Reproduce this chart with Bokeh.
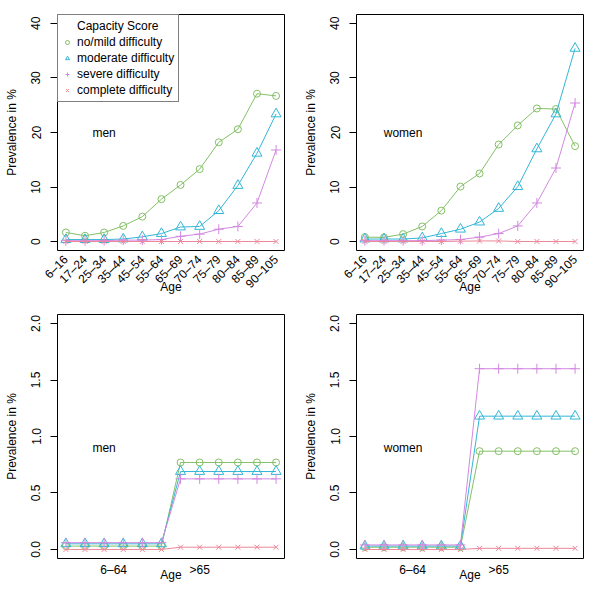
import math
from bokeh.plotting import figure
from bokeh.layouts import gridplot
from bokeh.models import FixedTicker, Legend, LegendItem, Range1d, Label
from bokeh.embed import file_html
from bokeh.resources import INLINE

# ---------------- data ----------------
age_groups = ["6–16", "17–24", "25–34", "35–44", "45–54", "55–64",
              "65–69", "70–74", "75–79", "80–84", "85–89", "90–105"]
age_pos = [1, 2, 3, 4, 5, 6, 7, 8, 9, 10, 11, 12]
series_names = ["no/mild difficulty", "moderate difficulty",
                "severe difficulty", "complete difficulty"]

men_mild = [1.7, 1.1, 1.7, 2.9, 4.6, 7.8, 10.4, 13.3, 18.2, 20.6, 27.1, 26.7]
men_moderate = [0.4, 0.4, 0.4, 0.5, 0.9, 1.5, 2.7, 2.8, 5.7, 10.3, 16.2, 23.4]
men_severe = [0.2, 0.2, 0.2, 0.3, 0.3, 0.4, 1.0, 1.4, 2.3, 2.8, 7.1, 16.8]
men_complete = [0.05, 0.05, 0.05, 0.05, 0.05, 0.05, 0.05, 0.05, 0.05, 0.05, 0.05, 0.05]

women_mild = [0.85, 0.8, 1.4, 2.8, 5.7, 10.1, 12.5, 17.8, 21.3, 24.4, 24.3, 17.5]
women_moderate = [0.5, 0.5, 0.5, 0.7, 1.5, 2.3, 3.6, 6.1, 10.1, 17.0, 23.4, 35.4]
women_severe = [0.2, 0.2, 0.2, 0.2, 0.3, 0.4, 0.85, 1.5, 2.9, 7.1, 13.5, 25.4]
women_complete = [0.05, 0.05, 0.05, 0.05, 0.05, 0.1, 0.15, 0.15, 0.05, 0.05, 0.05, 0.05]

grp_labels = ["6–64", ">65"]
grp_label_pos = [3.5, 8]
grp_pos = [1, 2, 3, 4, 5, 6, 7, 8, 9, 10, 11, 12]
men_grp_mild = [0.03, 0.03, 0.03, 0.03, 0.03, 0.03, 0.77, 0.77, 0.77, 0.77, 0.77, 0.77]
men_grp_moderate = [0.05, 0.05, 0.05, 0.05, 0.05, 0.05, 0.69, 0.69, 0.69, 0.69, 0.69, 0.69]
men_grp_severe = [0.06, 0.06, 0.06, 0.06, 0.06, 0.06, 0.625, 0.625, 0.625, 0.625, 0.625, 0.625]
men_grp_complete = [0.0, 0.0, 0.0, 0.0, 0.0, 0.0, 0.02, 0.02, 0.02, 0.02, 0.02, 0.02]

women_grp_mild = [0.02, 0.02, 0.02, 0.02, 0.02, 0.02, 0.87, 0.87, 0.87, 0.87, 0.87, 0.87]
women_grp_moderate = [0.03, 0.03, 0.03, 0.03, 0.03, 0.03, 1.18, 1.18, 1.18, 1.18, 1.18, 1.18]
women_grp_severe = [0.04, 0.04, 0.04, 0.04, 0.04, 0.04, 1.6, 1.6, 1.6, 1.6, 1.6, 1.6]
women_grp_complete = [0.0, 0.0, 0.0, 0.0, 0.0, 0.0, 0.01, 0.01, 0.01, 0.01, 0.01, 0.01]

top_yticks = [0, 10, 20, 30, 40]
top_ytick_labels = ["0", "10", "20", "30", "40"]
bottom_yticks = [0, 0.5, 1.0, 1.5, 2.0]
bottom_ytick_labels = ["0.0", "0.5", "1.0", "1.5", "2.0"]

# ---------------- style ----------------
FONT = "Liberation Sans"
colors = ["#84C066", "#33B6D6", "#D388E0", "#EC8799"]
markers = ["circle", "triangle", "cross", "x"]
msizes = [7, 10, 10, 7]


def make_panel(xs, series, y_max, yticks, ylabels, xticks, xlabels, rotate,
               tag, tag_y, width, height, b_left, b_right, b_top, b_bottom,
               xlbl_standoff, xlab_standoff, with_legend=False):
    pad = 0.04 * y_max
    p = figure(width=width, height=height, output_backend="svg",
               toolbar_location=None,
               x_range=Range1d(0.56, 12.44), y_range=Range1d(-pad, y_max + pad),
               min_border_left=b_left, min_border_right=b_right,
               min_border_top=b_top, min_border_bottom=b_bottom,
               background_fill_color="white", border_fill_color="white")
    p.grid.visible = False
    p.outline_line_color = "black"
    p.outline_line_width = 1

    # y axis
    ya = p.yaxis[0]
    ya.ticker = FixedTicker(ticks=yticks)
    ya.major_label_overrides = {t: l for t, l in zip(yticks, ylabels)}
    ya.major_label_orientation = "vertical"
    ya.major_tick_out = 7
    ya.major_tick_in = 0
    ya.minor_tick_line_color = None
    ya.axis_line_color = None
    ya.major_label_text_font = FONT
    ya.major_label_text_font_size = "12px"
    ya.major_label_text_color = "black"
    ya.major_label_standoff = 10
    ya.axis_label = "Prevalence in %"
    ya.axis_label_text_font = FONT
    ya.axis_label_text_font_size = "12px"
    ya.axis_label_text_font_style = "normal"
    ya.axis_label_text_color = "black"
    ya.axis_label_standoff = 10

    # x axis
    xa = p.xaxis[0]
    xa.ticker = FixedTicker(ticks=xticks)
    xa.major_label_overrides = {t: l for t, l in zip(xticks, xlabels)}
    if rotate:
        xa.major_label_orientation = math.pi / 4
    xa.major_tick_line_color = None
    xa.minor_tick_line_color = None
    xa.axis_line_color = None
    xa.major_label_text_font = FONT
    xa.major_label_text_font_size = "12px"
    xa.major_label_text_color = "black"
    xa.major_label_standoff = xlbl_standoff
    xa.axis_label = "Age"
    xa.axis_label_text_font = FONT
    xa.axis_label_text_font_size = "12px"
    xa.axis_label_text_font_style = "normal"
    xa.axis_label_text_color = "black"
    xa.axis_label_standoff = xlab_standoff

    scatters = []
    for ys, c, m, s in zip(series, colors, markers, msizes):
        p.line(xs, ys, line_color=c, line_width=1)
        r = p.scatter(xs, ys, marker=m, size=s, line_color=c, fill_color=None,
                      line_width=1)
        scatters.append(r)

    p.add_layout(Label(x=3, y=tag_y, text=tag, text_align="center",
                       text_baseline="middle", text_font=FONT,
                       text_font_size="12px", text_color="black"))

    if with_legend:
        items = [LegendItem(label="Capacity Score", renderers=[])]
        items += [LegendItem(label=n, renderers=[r])
                  for n, r in zip(series_names, scatters)]
        leg = Legend(items=items, location="top_left", margin=0, padding=4,
                     spacing=2, label_height=12, glyph_height=12,
                     glyph_width=10, label_standoff=5,
                     border_line_color="black", border_line_width=1,
                     background_fill_color="white", background_fill_alpha=1,
                     label_text_font=FONT, label_text_font_size="12px",
                     label_text_color="black")
        p.add_layout(leg)
    return p


p1 = make_panel(age_pos, [men_mild, men_moderate, men_severe, men_complete],
                40, top_yticks, top_ytick_labels, age_pos, age_groups,
                True, "men", 20, 292, 296, 57, 8, 14, 46, 1, -19,
                with_legend=True)
p2 = make_panel(age_pos, [women_mild, women_moderate, women_severe, women_complete],
                40, top_yticks, top_ytick_labels, age_pos, age_groups,
                True, "women", 20, 292, 296, 64, 1, 14, 46, 1, -19)
p3 = make_panel(grp_pos, [men_grp_mild, men_grp_moderate, men_grp_severe, men_grp_complete],
                2.0, bottom_yticks, bottom_ytick_labels, grp_label_pos, grp_labels,
                False, "men", 0.9, 292, 288, 57, 8, 18, 16, -2, -12)
p4 = make_panel(grp_pos, [women_grp_mild, women_grp_moderate, women_grp_severe, women_grp_complete],
                2.0, bottom_yticks, bottom_ytick_labels, grp_label_pos, grp_labels,
                False, "women", 0.9, 292, 288, 64, 1, 18, 16, -2, -12)

grid = gridplot([[p1, p2], [p3, p4]], toolbar_location=None)

with open("out.html", "w") as f:
    f.write(file_html(grid, INLINE))
